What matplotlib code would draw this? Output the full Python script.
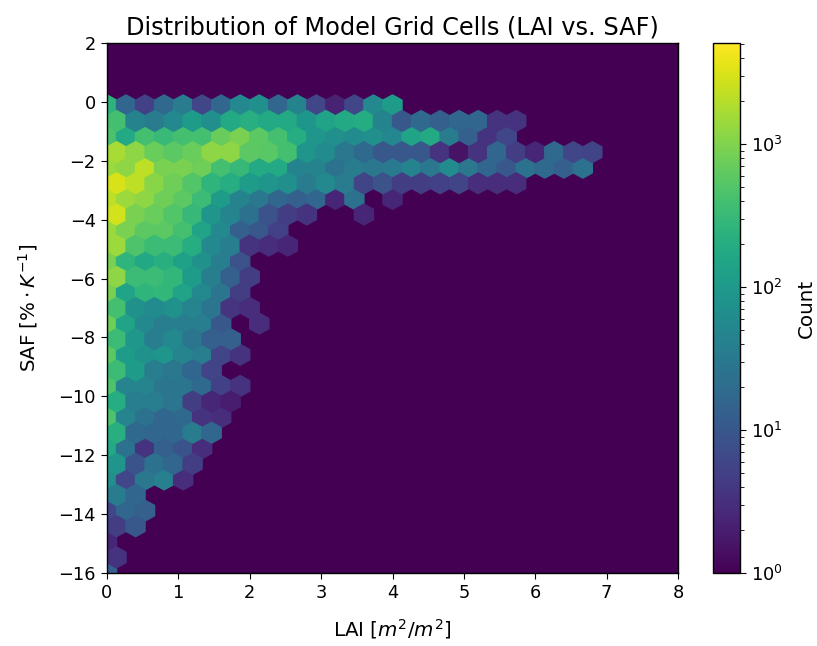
import numpy as np
import matplotlib
matplotlib.use('Agg')
import matplotlib.pyplot as plt

# counts per hexagon, one list per row of the hex grid
# row_00 is the bottom row (SAF = -16), row_30 the top one (SAF ~ -0.1)
row_30 = [250, 16, 5, 18, 35, 6, 16, 55, 70, 16, 45, 6, 2.3, 6, 55, 110]
row_29 = [400, 45, 35, 55, 110, 70, 170, 210, 170, 170, 90, 140, 170, 190, 45, 10, 18, 13, 16, 16, 3.5, 3.5]
row_28 = [450, 170, 400, 320, 400, 400, 700, 930, 600, 400, 200, 85, 70, 60, 70, 50, 140, 170, 35, 13, 3.5, 6]
row_27 = [1690, 1197, 714, 600, 714, 1197, 1197, 600, 550, 400, 85, 60, 30, 18, 10, 10, 10, 3.5, 1.5, 3.5, 16, 4.5, 2.5, 18, 6, 5.5]
row_26 = [1420, 1197, 2185, 925, 925, 780, 393, 300, 170, 170, 45, 45, 25, 35, 30, 33, 45, 30, 60, 30, 16, 10, 25, 18, 13, 25]
row_25 = [3000, 2185, 1100, 780, 508, 255, 200, 110, 85, 70, 35, 55, 35, 5.5, 8.5, 4.5, 4.5, 5, 5.5, 3, 3, 3]
row_24 = [2185, 1420, 1197, 780, 600, 332, 110, 45, 30, 16, 13, 16, 2.5, 24, 0, 2.5]
row_23 = [2830, 925, 714, 508, 305, 85, 47, 24, 8.5, 4.5, 3.5, 0, 0, 2.5]
row_22 = [1420, 925, 600, 600, 393, 142, 55, 13, 10, 5]
row_21 = [1420, 466, 332, 332, 200, 55, 36, 3.5, 3, 2.5]
row_20 = [925, 255, 167, 220, 130, 72, 36, 8.5]
row_19 = [1197, 332, 332, 280, 110, 39, 13, 4.5]
row_18 = [925, 142, 255, 280, 142, 55, 28, 4.5]
row_17 = [393, 72, 60, 72, 47, 28, 3.6, 3]
row_16 = [780, 142, 55, 36, 36, 36, 10, 0, 3]
row_15 = [332, 92, 36, 55, 28, 13, 13]
row_14 = [600, 110, 72, 85, 47, 36, 5.5, 3.5]
row_13 = [332, 110, 36, 30, 16, 5.5]
row_12 = [466, 47, 47, 28, 28, 18, 5, 3.5]
row_11 = [200, 36, 36, 28, 4.5, 2.5, 2]
row_10 = [466, 47, 24, 16, 18, 3.5, 3]
row_09 = [220, 18, 16, 16, 35, 16]
row_08 = [170, 24, 3.5, 13, 9, 3]
row_07 = [85, 9, 25, 16, 4.5]
row_06 = [70, 6, 30, 40, 3]
row_05 = [35, 16]
row_04 = [6, 16, 13]
row_03 = [4.5, 10]
row_02 = [2.5]
row_01 = [3.5]
row_00 = [13]

rows = [row_00, row_01, row_02, row_03, row_04, row_05, row_06, row_07, row_08, row_09,
        row_10, row_11, row_12, row_13, row_14, row_15, row_16, row_17, row_18, row_19,
        row_20, row_21, row_22, row_23, row_24, row_25, row_26, row_27, row_28, row_29, row_30]

extent = (0, 8, -16, 2)
gridsize = 30
ny = int(gridsize / np.sqrt(3))
dx = (extent[1] - extent[0]) / gridsize
dy = (extent[3] - extent[2]) / ny

# hex centres: odd rows are shifted half a cell to the right
lai, saf, count = [], [], []
for k, row in enumerate(rows):
    for i, c in enumerate(row):
        if c > 0:
            lai.append((i + 0.5 * (k % 2)) * dx)
            saf.append(extent[2] + k * dy / 2)
            count.append(c)

plt.rcParams['font.size'] = 12.8
plt.rcParams['axes.linewidth'] = 1.0
plt.rcParams['xtick.major.size'] = 4.6
plt.rcParams['ytick.major.size'] = 4.6
plt.rcParams['ytick.minor.size'] = 2.6

fig = plt.figure(figsize=(8.17, 6.46), dpi=100)
W, H = 817, 646
ax = fig.add_axes([107 / W, 1 - 573 / H, (678 - 107) / W, (573 - 43) / H])
cax = fig.add_axes([713 / W, 1 - 573 / H, (740 - 713) / W, (573 - 43) / H])

ax.set_facecolor(plt.cm.viridis(0))
hb = ax.hexbin(lai, saf, C=count, reduce_C_function=np.sum, gridsize=gridsize,
               extent=extent, bins='log', cmap='viridis', vmin=1, vmax=5100)
ax.set_xlim(0, 8)
ax.set_ylim(-16, 2)
ax.set_xlabel('LAI [$m^2/m^2$]', fontsize=14.3, labelpad=11)
ax.set_ylabel(r'SAF [$\% \cdot K^{-1}$]', fontsize=14.3, labelpad=13)
ax.set_title('Distribution of Model Grid Cells (LAI vs. SAF)', fontsize=17.3, pad=6)

cb = fig.colorbar(hb, cax=cax)
cb.set_label('Count', fontsize=14.3, labelpad=10)

fig.savefig('out.png', dpi=100)
